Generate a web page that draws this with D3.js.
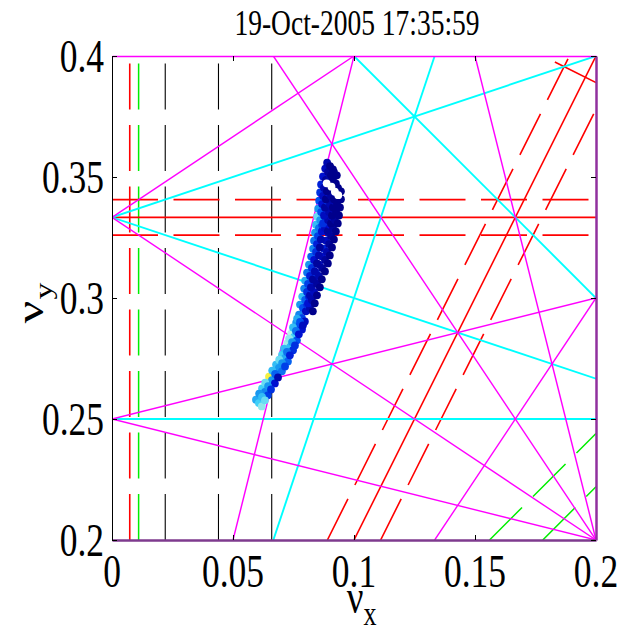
<!DOCTYPE html>
<html>
<head>
<meta charset="utf-8">
<script src="https://cdn.jsdelivr.net/npm/d3@7"></script>
<style>
  html, body { margin: 0; padding: 0; background: #fff; }
  svg { display: block; }
  text { font-family: "Liberation Serif", "Times New Roman", serif; fill: #000; }
</style>
</head>
<body>
<svg id="chart" width="622" height="634"></svg>
<script>
// ---- tune diagram data ----
const title = "19-Oct-2005 17:35:59";
const xDomain = [0, 0.2];
const yDomain = [0.2, 0.4];
const xTicks = [0, 0.05, 0.1, 0.15, 0.2];
const xTickLabels = ["0", "0.05", "0.1", "0.15", "0.2"];
const yTicks = [0.2, 0.25, 0.3, 0.35, 0.4];
const yTickLabels = ["0.2", "0.25", "0.3", "0.35", "0.4"];

// resonance lines  m*nux + n*nuy = p   ->  [m, n, p, dashed]
const order1Lines = [[1, 0, 0.022, true], [1, 0, 0.044, true], [1, 0, 0.066, true]];
const order2Lines = [[2, 0, 0.022, true], [2, -2, -0.044, true], [2, -2, -0.088, true]];
const order3Lines = [[0, 3, 1, false], [2, -1, 0, false],
                     [3, 0, 0.022, true], [0, 3, 1.022, true], [0, 3, 0.978, true],
                     [2, -1, 0.022, true], [2, -1, -0.022, true], [1, 2, 0.978, true]];
const order4Lines = [[0, 4, 1, false], [2, 2, 1, false], [1, 3, 1, false],
                     [1, -3, -1, false], [3, -1, 0, false]];
const order5Lines = [[4, 1, 1, false], [4, -1, 0, false], [1, 4, 1, false], [1, -4, -1, false],
                     [3, 2, 1, false], [3, -2, 0, false], [2, 3, 1, false], [2, -3, -1, false]];
const orderColors = ["#000000", "#00ee00", "#ff0000", "#00ffff", "#ff00ff"];

// measured tunes: [nux, nuy, shade]
const tunes = [
  [0.0595,0.2580,0.65],[0.0607,0.2566,0.75],[0.0619,0.2552,0.85],
  [0.0620,0.2626,0.75],[0.0632,0.2612,0.55],[0.0644,0.2598,0.35],
  [0.0649,0.2675,1.10],[0.0661,0.2661,0.60],[0.0673,0.2647,0.20],
  [0.0678,0.2725,0.70],[0.0690,0.2711,0.60],[0.0702,0.2697,0.50],
  [0.0703,0.2766,0.75],[0.0715,0.2752,0.65],[0.0727,0.2738,0.45],
  [0.0724,0.2812,0.88],[0.0736,0.2798,0.70],[0.0748,0.2784,0.30],
  [0.0740,0.2853,0.90],[0.0752,0.2839,0.75],[0.0764,0.2825,0.40],
  [0.0761,0.2898,0.60],[0.0773,0.2884,0.40],[0.0785,0.2870,0.20],
  [0.0773,0.2931,0.55],[0.0785,0.2917,0.35],[0.0797,0.2903,0.15],
  [0.0608,0.2605,0.60],[0.0620,0.2591,0.70],[0.0632,0.2577,0.80],
  [0.0633,0.2650,0.80],[0.0645,0.2636,0.60],[0.0657,0.2622,0.30],
  [0.0662,0.2700,0.70],[0.0674,0.2686,0.45],[0.0686,0.2672,0.10],
  [0.0691,0.2745,0.80],[0.0703,0.2731,0.60],[0.0715,0.2717,0.35],
  [0.0711,0.2791,0.70],[0.0723,0.2777,0.50],[0.0735,0.2763,0.25],
  [0.0732,0.2832,0.85],[0.0744,0.2818,0.60],[0.0756,0.2804,0.30],
  [0.0748,0.2878,0.70],[0.0760,0.2864,0.50],[0.0772,0.2850,0.20],
  [0.0765,0.2915,0.65],[0.0777,0.2901,0.40],[0.0789,0.2887,0.15],
  [0.0777,0.2973,0.60],[0.0789,0.2959,0.40],[0.0801,0.2945,0.15],
  [0.0806,0.2973,0.30],[0.0818,0.2959,0.10],[0.0830,0.2945,0.00],
  [0.0786,0.3006,0.70],[0.0798,0.2992,0.45],[0.0810,0.2978,0.20],
  [0.0814,0.3006,0.25],[0.0826,0.2992,0.10],[0.0838,0.2978,0.00],
  [0.0794,0.3039,0.55],[0.0806,0.3025,0.30],[0.0818,0.3011,0.10],
  [0.0823,0.3039,0.30],[0.0835,0.3025,0.15],[0.0847,0.3011,0.00],
  [0.0798,0.3072,0.65],[0.0810,0.3058,0.35],[0.0822,0.3044,0.10],
  [0.0835,0.3072,0.20],[0.0847,0.3058,0.05],[0.0859,0.3044,0.00],
  [0.0806,0.3105,0.50],[0.0818,0.3091,0.25],[0.0830,0.3077,0.05],
  [0.0843,0.3105,0.30],[0.0855,0.3091,0.10],[0.0867,0.3077,0.00],
  [0.0814,0.3138,0.60],[0.0826,0.3124,0.30],[0.0838,0.3110,0.10],
  [0.0856,0.3138,0.15],[0.0868,0.3124,0.05],[0.0880,0.3110,0.00],
  [0.0823,0.3171,0.45],[0.0835,0.3157,0.20],[0.0847,0.3143,0.05],
  [0.0868,0.3171,0.20],[0.0880,0.3157,0.05],[0.0892,0.3143,0.00],
  [0.0831,0.3204,0.55],[0.0843,0.3190,0.30],[0.0855,0.3176,0.10],
  [0.0876,0.3204,0.25],[0.0888,0.3190,0.10],[0.0900,0.3176,0.00],
  [0.0835,0.3237,0.50],[0.0847,0.3223,0.25],[0.0859,0.3209,0.05],
  [0.0885,0.3237,0.15],[0.0897,0.3223,0.05],[0.0909,0.3209,0.00],
  [0.0839,0.3270,0.60],[0.0851,0.3256,0.35],[0.0863,0.3242,0.10],
  [0.0893,0.3270,0.20],[0.0905,0.3256,0.05],[0.0917,0.3242,0.00],
  [0.0843,0.3303,0.70],[0.0855,0.3289,0.50],[0.0867,0.3275,0.20],
  [0.0868,0.3303,0.35],[0.0880,0.3289,0.15],[0.0892,0.3275,0.05],
  [0.0901,0.3303,0.20],[0.0913,0.3289,0.05],[0.0925,0.3275,0.00],
  [0.0848,0.3336,0.80],[0.0860,0.3322,0.60],[0.0872,0.3308,0.30],
  [0.0881,0.3336,0.30],[0.0893,0.3322,0.10],[0.0905,0.3308,0.00],
  [0.0909,0.3336,0.15],[0.0921,0.3322,0.05],[0.0933,0.3308,0.00],
  [0.0852,0.3369,0.60],[0.0864,0.3355,0.40],[0.0876,0.3341,0.15],
  [0.0885,0.3369,0.25],[0.0897,0.3355,0.10],[0.0909,0.3341,0.00],
  [0.0914,0.3369,0.10],[0.0926,0.3355,0.00],[0.0938,0.3341,0.00],
  [0.0856,0.3402,0.40],[0.0868,0.3388,0.20],[0.0880,0.3374,0.05],
  [0.0889,0.3402,0.30],[0.0901,0.3388,0.10],[0.0913,0.3374,0.00],
  [0.0918,0.3402,0.10],[0.0930,0.3388,0.00],[0.0942,0.3374,0.00],
  [0.0860,0.3436,0.30],[0.0872,0.3422,0.15],[0.0884,0.3408,0.00],
  [0.0893,0.3436,0.20],[0.0905,0.3422,0.05],[0.0917,0.3408,0.00],
  [0.0922,0.3436,0.10],[0.0934,0.3422,0.00],[0.0946,0.3408,0.00],
  [0.0864,0.3469,0.25],[0.0876,0.3455,0.10],[0.0888,0.3441,0.00],
  [0.0922,0.3469,0.10],[0.0934,0.3455,0.00],[0.0946,0.3441,0.00],
  [0.0872,0.3502,0.20],[0.0884,0.3488,0.05],[0.0896,0.3474,0.00],
  [0.0901,0.3502,0.10],[0.0913,0.3488,0.00],[0.0925,0.3474,0.00],
  [0.0881,0.3535,0.15],[0.0893,0.3521,0.05],[0.0905,0.3507,0.00],
  [0.0905,0.3535,0.05],[0.0917,0.3521,0.00],[0.0929,0.3507,0.00],
  [0.0889,0.3559,0.10],[0.0901,0.3545,0.00],[0.0913,0.3531,0.00],
  [0.0887,0.3474,1.00],[0.0907,0.3460,1.00],[0.0921,0.3439,1.00],[0.0935,0.3425,1.00]
];

// shade -> colour
const shadeColor = d3.scaleLinear()
  .domain([0, 0.2, 0.4, 0.6, 0.75, 0.9, 1.0, 1.1])
  .range(["#00008c", "#0010d0", "#0050f0", "#1898f0", "#40d0f8", "#b8f4e8", "#ffffff", "#f4f040"]);

// ---- layout ----
const svg = d3.select("#chart");
const plotL = 112, plotT = 56, plotW = 484, plotH = 484;
const x = d3.scaleLinear().domain(xDomain).range([plotL, plotL + plotW]);
const y = d3.scaleLinear().domain(yDomain).range([plotT + plotH, plotT]);
const stretch = 1.3;   // glyphs are drawn taller than wide

svg.append("defs").append("clipPath").attr("id", "plotClip")
  .append("rect").attr("x", plotL).attr("y", plotT).attr("width", plotW).attr("height", plotH);

const plot = svg.append("g").attr("clip-path", "url(#plotClip)");

// clip line m*x + n*y = p against the plotted window
function segment(m, n, p) {
  const [x0, x1] = xDomain, [y0, y1] = yDomain, eps = 1e-9;
  const pts = [];
  if (n !== 0) {
    [x0, x1].forEach(xv => { const yv = (p - m * xv) / n; if (yv >= y0 - eps && yv <= y1 + eps) pts.push([xv, yv]); });
  }
  if (m !== 0) {
    [y0, y1].forEach(yv => { const xv = (p - n * yv) / m; if (xv >= x0 - eps && xv <= x1 + eps) pts.push([xv, yv]); });
  }
  const uniq = [];
  pts.forEach(a => { if (!uniq.some(b => Math.abs(a[0] - b[0]) < 1e-7 && Math.abs(a[1] - b[1]) < 1e-7)) uniq.push(a); });
  if (uniq.length < 2) return null;
  uniq.sort((a, b) => (a[1] - b[1]) || (a[0] - b[0]));
  return [uniq[0], uniq[uniq.length - 1]];
}

const groups = [order1Lines, order2Lines, order3Lines, order4Lines, order5Lines];
const widths = [1.1, 1.5, 1.6, 1.9, 1.4];
groups.forEach((lines, k) => {
  lines.forEach(([m, n, p, dashed]) => {
    const s = segment(m, n, p);
    if (!s) return;
    plot.append("line")
      .attr("x1", x(s[0][0])).attr("y1", y(s[0][1]))
      .attr("x2", x(s[1][0])).attr("y2", y(s[1][1]))
      .attr("stroke", orderColors[k])
      .attr("stroke-width", widths[k])
      .attr("stroke-dasharray", dashed ? "46,15.5" : null);
  });
});

// tunes
plot.append("g").selectAll("circle").data(tunes).join("circle")
  .attr("cx", d => x(d[0]))
  .attr("cy", d => y(d[1]))
  .attr("r", 3.9)
  .attr("fill", d => shadeColor(d[2]));

// ---- axes (box with inward ticks) ----
const axB = svg.append("g").attr("transform", `translate(0,${plotT + plotH})`)
  .call(d3.axisBottom(x).tickValues(xTicks).tickFormat("").tickSize(-5).tickSizeOuter(0));
const axT = svg.append("g").attr("transform", `translate(0,${plotT})`)
  .call(d3.axisTop(x).tickValues(xTicks).tickFormat("").tickSize(-5).tickSizeOuter(0));
const axL = svg.append("g").attr("transform", `translate(${plotL},0)`)
  .call(d3.axisLeft(y).tickValues(yTicks).tickFormat("").tickSize(-5).tickSizeOuter(0));
const axR = svg.append("g").attr("transform", `translate(${plotL + plotW},0)`)
  .call(d3.axisRight(y).tickValues(yTicks).tickFormat("").tickSize(-5).tickSizeOuter(0));

[axB, axT, axL, axR].forEach(a => {
  a.selectAll("path.domain").attr("stroke", "#000").attr("stroke-width", 1);
  a.selectAll(".tick line").attr("stroke", "#000");
});

// fifth-order resonances lying on the window edges
axT.select("path.domain").attr("stroke", "#ff00ff").attr("stroke-width", 1.5);
axR.select("path.domain").attr("stroke", "#90309e").attr("stroke-width", 2.5);
axB.select("path.domain").attr("stroke", "#7e3a8e").attr("stroke-width", 2.5);

// tick labels
const tickFont = 35.5;
svg.append("g").selectAll("g").data(xTicks).join("g")
  .attr("transform", d => `translate(${x(d)},587) scale(1,${stretch})`)
  .append("text").attr("text-anchor", "middle").attr("font-size", tickFont)
  .text((d, i) => xTickLabels[i]);
svg.append("g").selectAll("g").data(yTicks).join("g")
  .attr("transform", d => `translate(104,${y(d) + 15.5}) scale(1,${stretch})`)
  .append("text").attr("text-anchor", "end").attr("font-size", tickFont)
  .text((d, i) => yTickLabels[i]);

// ---- title and axis labels ----
svg.append("g").attr("transform", `translate(357,35) scale(1,${stretch})`)
  .append("text").attr("text-anchor", "middle").attr("font-size", 27.5).text(title);

svg.append("g").attr("transform", `translate(355,613) scale(1,${stretch})`)
  .append("text").attr("text-anchor", "middle").attr("font-size", 37).text("ν");
svg.append("g").attr("transform", `translate(370,625) scale(1,${stretch})`)
  .append("text").attr("text-anchor", "middle").attr("font-size", 26).text("x");

svg.append("g").attr("transform", `translate(43,312) scale(1,${stretch}) rotate(-90)`)
  .append("text").attr("text-anchor", "middle").attr("font-size", 38).text("ν");
svg.append("g").attr("transform", `translate(52,291) scale(1,${stretch}) rotate(-90)`)
  .append("text").attr("text-anchor", "middle").attr("font-size", 26).text("y");
</script>
</body>
</html>
